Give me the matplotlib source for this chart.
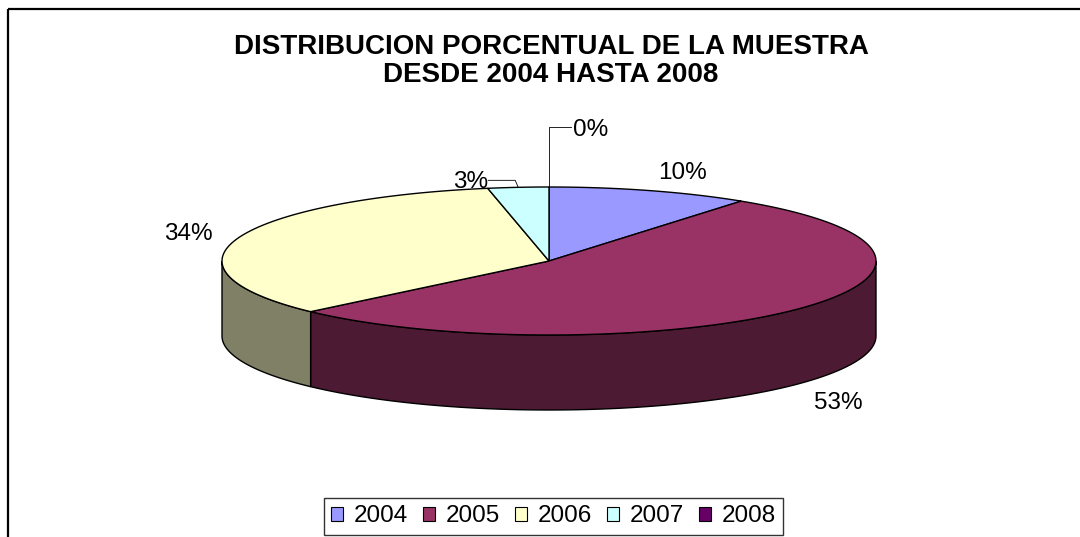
import numpy as np
import matplotlib
matplotlib.use("Agg")
import matplotlib.pyplot as plt
from matplotlib.patches import Polygon, Rectangle, Patch

plt.rcParams['font.family'] = ['Liberation Sans', 'DejaVu Sans']

years = ["2004", "2005", "2006", "2007", "2008"]
shares = [10, 53, 34, 3, 0]
labels = ["10%", "53%", "34%", "3%", "0%"]
top_colors = ["#9999FF", "#993366", "#FFFFCC", "#CCFFFF", "#660066"]
title = "DISTRIBUCION PORCENTUAL DE LA MUESTRA\nDESDE 2004 HASTA 2008"

# pie geometry in pixel space
cx, cy = 549, 261
a, b = 327, 74
depth = 75


def ell(theta, dy=0.0, k=1.0, ky=1.0):
    t = np.radians(theta)
    return cx + a * k * np.sin(t), cy - b * ky * np.cos(t) + dy


def darker(c):
    r, g, bl = matplotlib.colors.to_rgb(c)
    return (r * 0.5, g * 0.5, bl * 0.5)


fig = plt.figure(figsize=(10.8, 5.37), dpi=100)
ax = fig.add_axes([0, 0, 1, 1])
ax.set_xlim(0, 1080)
ax.set_ylim(537, 0)
ax.axis("off")

# outer chart border (only top and left visible)
ax.add_patch(Rectangle((8, 9), 1200, 700, fill=False, edgecolor="black", lw=1.6))

total = float(sum(shares))
starts = np.cumsum([0] + shares[:-1]) / total * 360
ends = np.cumsum(shares) / total * 360

# sides (front half only)
for s, e, c in zip(starts, ends, top_colors):
    lo, hi = max(s, 90), min(e, 270)
    if hi <= lo:
        continue
    th = np.linspace(lo, hi, 80)
    x, y = ell(th)
    xb, yb = ell(th[::-1], dy=depth)
    pts = np.column_stack([np.r_[x, xb], np.r_[y, yb]])
    ax.add_patch(Polygon(pts, closed=True, facecolor=darker(c), edgecolor="black", lw=1.0))

# top faces
for s, e, c in zip(starts, ends, top_colors):
    if e - s <= 0:
        continue
    th = np.linspace(s, e, 120)
    x, y = ell(th)
    pts = np.column_stack([np.r_[cx, x], np.r_[cy, y]])
    ax.add_patch(Polygon(pts, closed=True, facecolor=c, edgecolor="black", lw=1.0))

# data labels
for s, e, lab in zip(starts, ends, labels):
    mid = (s + e) / 2
    frac = (e - s) / 360
    if frac >= 0.05:
        x, y = ell(mid, dy=3, k=1.08, ky=1.3)
        if 90 < mid < 270:
            y += depth
        ha = "left" if np.sin(np.radians(mid)) > 0 else "right"
        ax.text(x, y, lab, ha=ha, va="center", fontsize=17.5)
    elif frac > 0:
        x0, y0 = ell(mid)
        xs = [x0, x0 - 3, x0 - 30]
        ys = [y0, y0 - 7, y0 - 7]
        ax.plot(xs, ys, color="black", lw=0.6)
        ax.text(xs[-1], ys[-1] + 2, lab, ha="right", va="center", fontsize=17.5)
    else:
        x0, y0 = ell(mid)
        xs = [x0, x0, x0 + 22]
        ys = [y0, y0 - 60, y0 - 60]
        ax.plot(xs, ys, color="black", lw=0.6)
        ax.text(xs[-1] + 2, ys[-1] + 3, lab, ha="left", va="center", fontsize=17.5)

ax.text(551, 61, title, ha="center", va="center", fontsize=20, fontweight="bold",
        linespacing=1.05)

handles = [Patch(facecolor=c, edgecolor="black", lw=0.8) for c in top_colors]
leg = fig.legend(handles, years, loc="center", bbox_to_anchor=(553.5 / 1080, 1 - 516.5 / 537),
                 ncol=5, fontsize=17.5, frameon=True, fancybox=False, handlelength=0.5,
                 handleheight=0.5, handletextpad=0.45, columnspacing=0.6, borderpad=0.3)
leg.get_frame().set_edgecolor("black")
leg.get_frame().set_linewidth(1.0)

fig.savefig("out.png", dpi=100)
